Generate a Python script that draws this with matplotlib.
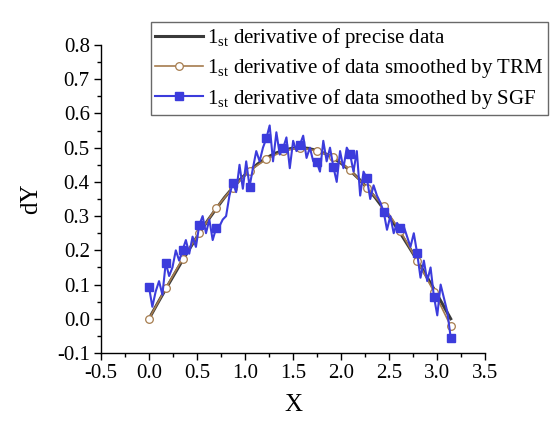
import numpy as np
import matplotlib
matplotlib.use("Agg")
import matplotlib.pyplot as plt
from matplotlib.ticker import MultipleLocator

plt.rcParams['font.family'] = ['Liberation Serif', 'DejaVu Serif']
plt.rcParams['mathtext.fontset'] = 'stix'

# precise derivative, sampled every 5 degrees from 0 to pi
precise_x = np.linspace(0, np.pi, 37)
precise_y = [0.000, 0.044, 0.087, 0.129, 0.171, 0.211, 0.250, 0.287, 0.321,
             0.354, 0.383, 0.410, 0.433, 0.453, 0.470, 0.483, 0.492, 0.498,
             0.500, 0.498, 0.492, 0.483, 0.470, 0.453, 0.433, 0.410, 0.383,
             0.354, 0.321, 0.287, 0.250, 0.211, 0.171, 0.129, 0.087, 0.044,
             0.000]

# TRM smoothed derivative (19 points)
trm_x = np.linspace(0, np.pi, 19)
trm_y = [0.000, 0.089, 0.175, 0.250, 0.324, 0.383, 0.433, 0.466, 0.490, 0.500,
         0.490, 0.474, 0.435, 0.383, 0.329, 0.256, 0.170, 0.079, -0.021]

# SGF smoothed derivative (91 points, marker every 5th)
sgf_x = np.linspace(0, np.pi, 91)
sgf_y = [0.093, 0.035, 0.080, 0.110, 0.070,
         0.164, 0.125, 0.150, 0.200, 0.170,
         0.200, 0.230, 0.190, 0.240, 0.210,
         0.274, 0.300, 0.250, 0.290, 0.230,
         0.264, 0.270, 0.290, 0.300, 0.360,
         0.398, 0.370, 0.450, 0.380, 0.460,
         0.386, 0.440, 0.490, 0.460, 0.500,
         0.527, 0.565, 0.460, 0.545, 0.480,
         0.498, 0.530, 0.440, 0.520, 0.490,
         0.508, 0.535, 0.470, 0.500, 0.460,
         0.459, 0.430, 0.520, 0.460, 0.500,
         0.444, 0.400, 0.490, 0.440, 0.500,
         0.481, 0.430, 0.490, 0.360, 0.430,
         0.410, 0.350, 0.390, 0.360, 0.340,
         0.313, 0.260, 0.300, 0.250, 0.280,
         0.264, 0.270, 0.240, 0.210, 0.250,
         0.191, 0.120, 0.170, 0.110, 0.150,
         0.065, 0.010, 0.100, 0.060, 0.020,
         -0.055]

labels = [r'$\mathregular{1_{st}}$ derivative of precise data',
          r'$\mathregular{1_{st}}$ derivative of data smoothed by TRM',
          r'$\mathregular{1_{st}}$ derivative of data smoothed by SGF']

fig = plt.figure(figsize=(5.5, 4.23), dpi=100)
ax = fig.add_axes([0.1836, 0.1655, 0.6984, 0.7281])

ax.plot(precise_x, precise_y, color='#3a3a3a', lw=2.2, label=labels[0])
ax.plot(trm_x, trm_y, color='#a67c4e', lw=1.2, marker='o', ms=5.5,
        mfc='white', mec='#a67c4e', mew=0.9, label=labels[1])
ax.plot(sgf_x, sgf_y, color='#3c3cdc', lw=1.5, marker='s', ms=6,
        markevery=5, label=labels[2])

ax.set_xlim(-0.5, 3.5)
ax.set_ylim(-0.1, 0.8)
ax.xaxis.set_major_locator(MultipleLocator(0.5))
ax.xaxis.set_minor_locator(MultipleLocator(0.25))
ax.yaxis.set_major_locator(MultipleLocator(0.1))
ax.yaxis.set_minor_locator(MultipleLocator(0.05))
ax.xaxis.set_major_formatter(plt.FormatStrFormatter('%.1f'))
ax.yaxis.set_major_formatter(plt.FormatStrFormatter('%.1f'))

for s in ['top', 'right']:
    ax.spines[s].set_visible(False)
for s in ['left', 'bottom']:
    ax.spines[s].set_linewidth(1.0)

ax.tick_params(which='major', direction='out', length=5, width=1,
               labelsize=15, pad=3)
ax.tick_params(which='minor', direction='out', length=3, width=1)

ax.set_xlabel('X', fontsize=18, labelpad=8)
ax.set_ylabel('dY', fontsize=18, labelpad=11)

leg = ax.legend(loc='upper left', bbox_to_anchor=(0.13, 1.075), fontsize=15,
                frameon=True, fancybox=False, edgecolor='#444444',
                handlelength=2.3, handletextpad=0.2, labelspacing=0.3,
                borderpad=0.2, borderaxespad=0)
leg.get_frame().set_linewidth(1.0)

fig.savefig('out.png', dpi=100)
